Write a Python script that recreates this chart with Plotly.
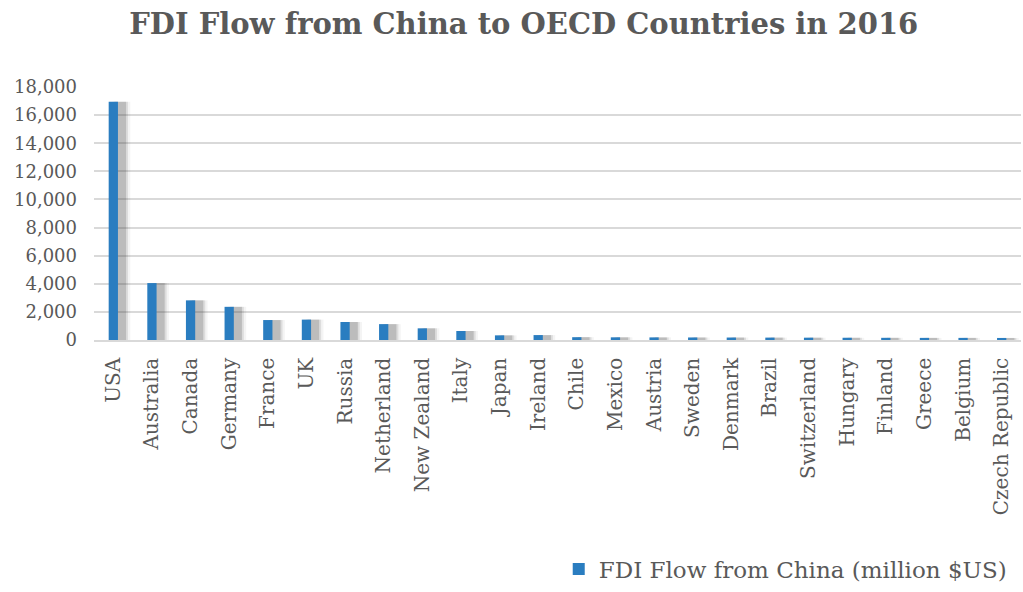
import plotly.graph_objects as go

countries = ["USA", "Australia", "Canada", "Germany", "France", "UK", "Russia",
             "Netherland", "New Zealand", "Italy", "Japan", "Ireland", "Chile",
             "Mexico", "Austria", "Sweden", "Denmark", "Brazil", "Switzerland",
             "Hungary", "Finland", "Greece", "Belgium", "Czech Republic"]
fdi_flow = [16950, 4050, 2820, 2360, 1420, 1450, 1280, 1130, 830, 640, 330, 350,
            200, 190, 185, 180, 175, 170, 165, 160, 155, 150, 150, 145]

series_name = "FDI Flow from China (million $US)"
title_text = "FDI Flow from China to OECD Countries in 2016"
y_ticks = list(range(0, 18001, 2000))

BAR_BLUE = "#2A7DC0"
TEXT_GREY = "#595959"
GRID_GREY = "#D9D9D9"
FONT = "DejaVu Serif"

fig = go.Figure()

# soft drop shadow behind each bar, built from a few translucent layers
for w, op in [(0.52, 0.06), (0.40, 0.12), (0.30, 0.20)]:
    fig.add_trace(go.Bar(
        x=countries, y=fdi_flow, width=w, offset=0.18 - w / 2,
        marker=dict(color=f"rgba(60,60,60,{op})", line=dict(width=0)),
        showlegend=False, hoverinfo="skip"))

fig.add_trace(go.Bar(
    x=countries, y=fdi_flow, name=series_name, width=0.24, offset=-0.12,
    marker=dict(color=BAR_BLUE, line=dict(width=0)), showlegend=True))

fig.update_layout(
    width=1023, height=592,
    barmode="overlay",
    paper_bgcolor="white", plot_bgcolor="white",
    margin=dict(l=94, r=2, t=87, b=249),
    font=dict(family=FONT, color=TEXT_GREY, size=20),
    title=dict(text=f"<b>{title_text}</b>", x=0.512, xanchor="center",
               y=0.96, yanchor="middle",
               font=dict(family=FONT, size=29, color=TEXT_GREY)),
    showlegend=True,
    legend=dict(x=0.99, xanchor="right", y=-0.905, yanchor="middle",
                orientation="h", font=dict(size=23, color=TEXT_GREY),
                bgcolor="rgba(0,0,0,0)"),
    xaxis=dict(type="category", tickangle=-90, showgrid=False,
               showline=True, linecolor=GRID_GREY, linewidth=1.5,
               ticks="", ticklabelstandoff=8,
               tickfont=dict(size=20, color=TEXT_GREY)),
    yaxis=dict(range=[0, 18000], tickvals=y_ticks,
               tickformat=",d", showgrid=True, gridcolor=GRID_GREY,
               gridwidth=1.5, zeroline=False, showline=False, ticks="",
               ticklabelstandoff=16,
               tickfont=dict(size=18, color=TEXT_GREY)),
)

fig.write_html("out.html")
